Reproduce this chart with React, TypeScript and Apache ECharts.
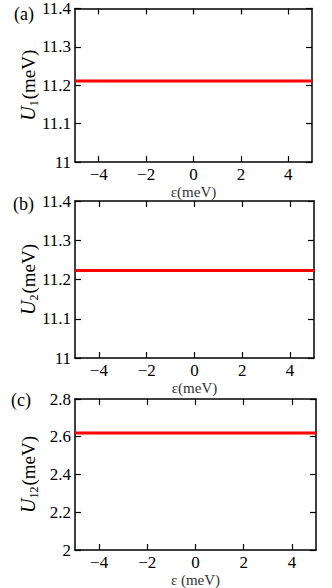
import React, { useEffect, useRef } from "react";
import * as echarts from "echarts";

const eps = [-5, -4, -3, -2, -1, 0, 1, 2, 3, 4, 5];
const U1 = [11.211, 11.211, 11.211, 11.211, 11.211, 11.211, 11.211, 11.211, 11.211, 11.211, 11.211];
const U2 = [11.223, 11.223, 11.223, 11.223, 11.223, 11.223, 11.223, 11.223, 11.223, 11.223, 11.223];
const U12 = [2.62, 2.62, 2.62, 2.62, 2.62, 2.62, 2.62, 2.62, 2.62, 2.62, 2.62];
const xTicks = [-4, -2, 0, 2, 4];
const panelLabels = ["(a)", "(b)", "(c)"];
const yNames = [["U", "1"], ["U", "2"], ["U", "12"]];
const xNames = ["ε(meV)", "ε(meV)", "ε (meV)"];
const yRanges = [
  [11, 11.4, 0.1],
  [11, 11.4, 0.1],
  [2, 2.8, 0.2],
];

const FONT = "'Liberation Serif', 'DejaVu Serif', serif";

export default function App() {
  const ref = useRef<HTMLDivElement>(null);
  useEffect(() => {
    const chart = echarts.init(ref.current!, null, { renderer: "svg" });
    const grids = [
      { left: 75, top: 5, width: 237, height: 157 },
      { left: 75, top: 201, width: 239, height: 157 },
      { left: 75, top: 399, width: 241, height: 155 },
    ];
    const series = [U1, U2, U12];
    const xAxis: any[] = [];
    const yAxis: any[] = [];
    const lineStyle = { color: "#000", width: 1.5 };
    const tickStyle = { color: "#000", width: 1.2 };
    grids.forEach((g, i) => {
      xAxis.push({
        type: "value",
        gridIndex: i,
        min: -5,
        max: 5,
        position: "bottom",
        axisLine: { show: true, onZero: false, lineStyle },
        axisTick: { show: true, inside: true, length: 6, customValues: xTicks, lineStyle: tickStyle },
        axisLabel: {
          customValues: xTicks,
          color: "#000",
          fontFamily: FONT,
          fontSize: 17,
          margin: 4,
          formatter: (v: number) => String(v).replace("-", "\u2212"),
        },
        splitLine: { show: false },
        name: xNames[i],
        nameLocation: "middle",
        nameMoveOverlap: false,
        nameGap: 22,
        nameTextStyle: {
          color: "#333",
          fontFamily: FONT,
          fontSize: 15,
        },
      });
      xAxis.push({
        type: "value",
        gridIndex: i,
        min: -5,
        max: 5,
        position: "top",
        axisLine: { show: true, onZero: false, lineStyle },
        axisTick: { show: true, inside: true, length: 6, customValues: xTicks, lineStyle: tickStyle },
        axisLabel: { show: false },
        splitLine: { show: false },
      });
      const [mn, mx, iv] = yRanges[i];
      yAxis.push({
        type: "value",
        gridIndex: i,
        min: mn,
        max: mx,
        interval: iv,
        position: "left",
        axisLine: { show: true, onZero: false, lineStyle },
        axisTick: { show: true, inside: true, length: 6, lineStyle: tickStyle },
        axisLabel: {
          color: "#000",
          fontFamily: FONT,
          fontSize: 17,
          margin: 4,
          formatter: (v: number) => String(Math.round(v * 10) / 10),
        },
        splitLine: { show: false },
        name: "{i|" + yNames[i][0] + "}{s|" + yNames[i][1] + "}{n|(meV)}",
        nameLocation: "middle",
        nameMoveOverlap: false,
        nameRotate: 90,
        nameGap: 37,
        nameTextStyle: {
          color: "#000",
          fontFamily: FONT,
          fontSize: 19,
          rich: {
            i: { fontFamily: FONT, fontSize: 20, fontStyle: "italic", color: "#000", verticalAlign: "bottom" },
            s: { fontFamily: FONT, fontSize: 12, color: "#000", verticalAlign: "bottom", padding: [0, 1, -2, 0] },
            n: { fontFamily: FONT, fontSize: 19, color: "#000", verticalAlign: "bottom" },
          },
        },
      });
      yAxis.push({
        type: "value",
        gridIndex: i,
        min: mn,
        max: mx,
        interval: iv,
        position: "right",
        axisLine: { show: true, onZero: false, lineStyle },
        axisTick: { show: true, inside: true, length: 6, lineStyle: tickStyle },
        axisLabel: { show: false },
        splitLine: { show: false },
      });
    });
    const option: any = {
      animation: false,
      backgroundColor: "#fff",
      textStyle: { fontFamily: FONT },
      grid: grids.map((g) => ({ ...g, containLabel: false })),
      xAxis,
      yAxis,
      series: series.map((d, i) => ({
        type: "line",
        xAxisIndex: i * 2,
        yAxisIndex: i * 2,
        data: eps.map((x, k) => [x, d[k]]),
        showSymbol: false,
        lineStyle: { color: "#ff0000", width: 3 },
        clip: true,
        silent: true,
      })),
      graphic: panelLabels.map((t, i) => ({
        type: "text",
        left: [14, 13, 11][i],
        top: [5, 195, 391][i],
        style: { text: t, fontFamily: FONT, fontSize: 18, fill: "#000" },
      })),
    };
    chart.setOption(option);
    return () => chart.dispose();
  }, []);
  return (
    <div
      ref={ref}
      style={{ position: "fixed", left: 0, top: 0, width: 332, height: 588 }}
    />
  );
}
